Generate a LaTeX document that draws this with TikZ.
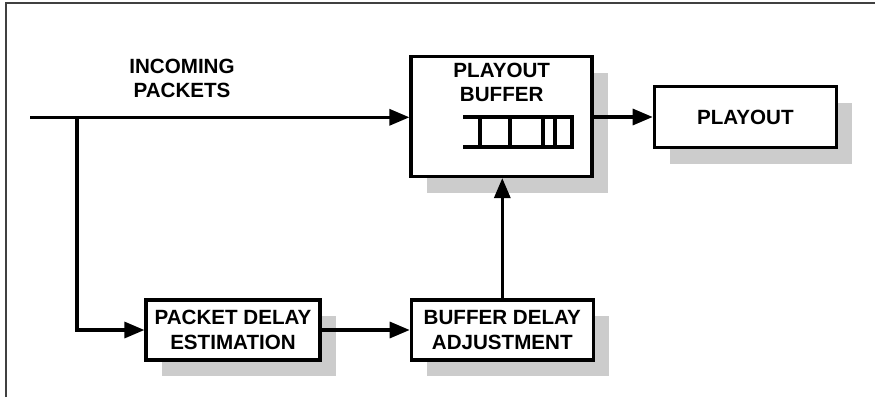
\documentclass[tikz,border=0pt]{standalone}
\usepackage{fontspec}
\setmainfont{Liberation Sans}
\usetikzlibrary{arrows.meta,shadows}
\definecolor{shadowgray}{gray}{0.80}
\definecolor{framegray}{gray}{0.25}
\begin{document}
\begin{tikzpicture}[x=1pt,y=-1pt,
  blockbox/.style={draw=black, line width=3.2pt, fill=white, rectangle,
    align=center, inner sep=0pt,
    font=\fontsize{20.6}{25.5}\selectfont\bfseries,
    drop shadow={shadow xshift=16pt, shadow yshift=-16pt, fill=shadowgray, opacity=1}},
  flow/.style={line width=3.2pt, -{Triangle[length=20pt,width=16pt]}},
  wire/.style={line width=3.2pt},
  label/.style={align=center, font=\fontsize{20.6}{24}\selectfont\bfseries}]
  \useasboundingbox (0,0) rectangle (875,397);

  % thin frame along the left and top edges
  \draw[framegray, line width=1.2pt] (6,397) -- (6,3) -- (875,3);

  % blocks
  \node[blockbox, minimum width=181pt, minimum height=120pt] (buffer) at (501.5,116.5) {};
  \node[label] (buftext) at (501.7,82.5) {PLAYOUT\\BUFFER};
  \node[blockbox, minimum width=182pt, minimum height=61pt] (playout) at (745.3,117) {PLAYOUT};
  \node[blockbox, minimum width=174pt, minimum height=60pt] (pde) at (233,330) {PACKET DELAY\\ESTIMATION};
  \node[blockbox, minimum width=182pt, minimum height=60pt] (bda) at (502.3,330) {BUFFER DELAY\\ADJUSTMENT};

  % queue drawn inside the playout buffer
  \draw[wire] (463,117) -- (572,117) -- (572,147) -- (463,147);
  \foreach \qx in {480,510,543,555}
    \draw[wire] (\qx,117) -- (\qx,147);

  % incoming packets
  \node[label] (intext) at (182,78) {INCOMING\\PACKETS};
  \coordinate (src) at (30,117.3);
  \coordinate (tap) at (77,117.3);
  \coordinate (corner) at (77,330);

  % connectors
  \draw[flow] (src) -- (buffer.west |- src);
  \draw[flow] (tap) -- (corner) -- (pde.west);
  \draw[flow] (pde.east) -- (bda.west);
  \draw[flow] (bda.north) -- (buffer.south -| bda.north);
  \draw[flow] (buffer.east |- playout.west) -- (playout.west);
\end{tikzpicture}
\end{document}
